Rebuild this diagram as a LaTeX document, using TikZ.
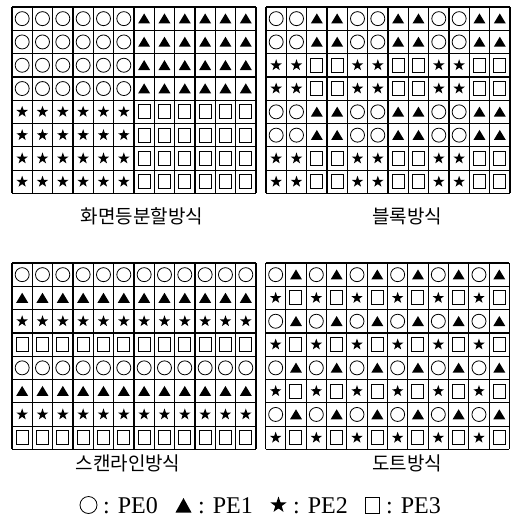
\documentclass[tikz,border=0pt]{standalone}
\usepackage{fontspec}
\setmainfont{Liberation Serif}
\newfontfamily\krfont{Noto Sans CJK KR}
\usetikzlibrary{shapes.geometric}
\tikzset{
  gridline/.style={line width=1.2pt, black},
  symline/.style={line width=0.8pt, black},
  sqline/.style={line width=1.0pt, black},
  starsym/.style={star, star points=5, star point ratio=2.5, minimum size=12pt, inner sep=0pt, fill=black, draw=none},
  caption/.style={font=\krfont\fontsize{19}{21}\selectfont, inner sep=0pt},
  legtext/.style={font=\fontsize{24}{26}\selectfont, inner sep=0pt, anchor=west}
}
\newcommand\cellsym[3]{%
  \ifcase#1
    \draw[symline] (#2,#3) circle[radius=7pt];
  \or
    \fill (#2-6,#3+4.8) -- (#2+6,#3+4.8) -- (#2,#3-5.2) -- cycle;
  \or
    \node[starsym] at (#2,#3) {};
  \or
    \draw[sqline] (#2-6,#3-7) rectangle (#2+6,#3+7);
  \fi}
\def\cw{20.33}
\def\ch{23.3}
% #1 x0, #2 y0, #3 type formula in \r and \c
\newcommand\pegrid[3]{%
  \foreach \r in {0,...,7}{%
    \foreach \c in {0,...,11}{%
      \pgfmathtruncatemacro\t{#3}%
      \pgfmathsetmacro\cx{#1+(\c+0.5)*\cw}%
      \pgfmathsetmacro\cy{#2+(\r+0.5)*\ch}%
      \cellsym{\t}{\cx}{\cy}%
    }}%
  \foreach \i in {0,...,12}{\draw[gridline] ({#1+\i*\cw},#2) -- ({#1+\i*\cw},{#2+8*\ch});}%
  \foreach \j in {0,...,8}{\draw[gridline] (#1,{#2+\j*\ch}) -- ({#1+12*\cw},{#2+\j*\ch});}%
}
\begin{document}
\begin{tikzpicture}[x=1pt,y=-1pt]
\useasboundingbox[fill=white] (0,0) rectangle (514,527);
\pegrid{12}{7}{(\r>=4)*2+(\c>=6)}
\pegrid{266}{7}{mod(int(\r/2),2)*2+mod(int(\c/2),2)}
\pegrid{12}{263}{mod(\r,4)}
\pegrid{265.5}{263}{mod(\r,2)*2+mod(\c,2)}
\node[caption] (cap1) at (142,216) {화면등분할방식};
\node[caption] (cap2) at (407,216) {블록방식};
\node[caption] (cap3) at (128,463) {스캔라인방식};
\node[caption] (cap4) at (407,463) {도트방식};
% legend
\draw[symline] (88.5,505) circle[radius=8.5pt];
\node[legtext] (l0) at (103,506) {: PE0};
\fill (175.5,512.5) -- (191.5,512.5) -- (183.5,498) -- cycle;
\node[legtext] (l1) at (198,506) {: PE1};
\node[starsym, minimum size=17pt] (s2) at (278.5,505) {};
\node[legtext] (l2) at (293,506) {: PE2};
\draw[sqline] (365,497) rectangle (379,513);
\node[legtext] (l3) at (386,506) {: PE3};
\end{tikzpicture}
\end{document}
